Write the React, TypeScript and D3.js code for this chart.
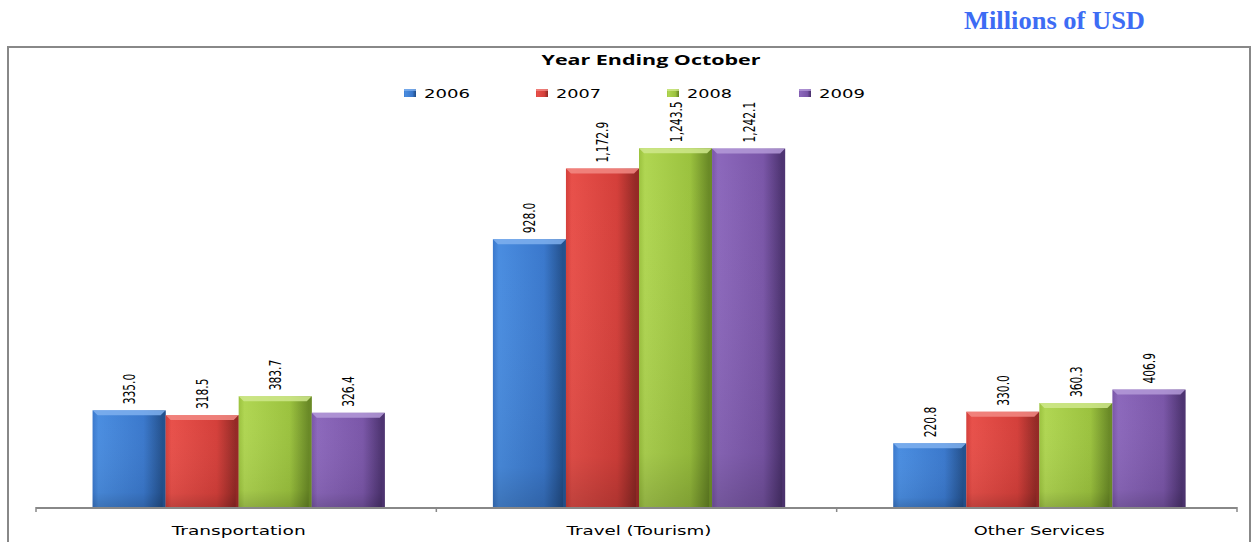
import React from "react";
import * as d3 from "d3";

const categories = ["Transportation", "Travel (Tourism)", "Other Services"];
const years = ["2006", "2007", "2008", "2009"];
const v2006 = [335.0, 928.0, 220.8];
const v2007 = [318.5, 1172.9, 330.0];
const v2008 = [383.7, 1243.5, 360.3];
const v2009 = [326.4, 1242.1, 406.9];
const seriesValues = [v2006, v2007, v2008, v2009];
const yMax = 1400;

const palette = [
  { light: "#4a8de0", mid: "#3a78cc", dark: "#24528f", top: "#7fb0ee" },
  { light: "#e8504a", mid: "#d43f3a", dark: "#952a26", top: "#f28a84" },
  { light: "#b0d652", mid: "#9bc23e", dark: "#6a8a26", top: "#cfe88c" },
  { light: "#8c68bc", mid: "#7a56a8", dark: "#4e3472", top: "#b49ad8" },
];

const W = 1252;
const H = 542;
const baseY = 507;
const topY = 103;
const axisL = 36;
const axisR = 1237;
const barShift = 2.5;

function labelLen(s: string) {
  let n = 0;
  for (const c of s) n += /[0-9]/.test(c) ? 6.8 : 3.4;
  return n;
}

export default function App() {
  const x0 = d3.scaleBand<string>().domain(categories).range([axisL, axisR]).padding(0);
  const x1 = d3
    .scaleBand<string>()
    .domain(years)
    .range([0, x0.bandwidth()])
    .paddingInner(0)
    .paddingOuter(0.74);
  const y = d3.scaleLinear().domain([0, yMax]).range([baseY, topY]);
  const fmt = d3.format(",.1f");
  const legendX = [404, 536, 667, 799];
  const legendTextW = [46, 45, 45, 46];
  const catLabelW = [134, 145, 131];

  return (
    <svg
      width={W}
      height={H}
      style={{ position: "absolute", left: 0, top: 0, background: "#fff" }}
    >
      <defs>
        {palette.map((p, i) => (
          <linearGradient key={i} id={`g${i}`} x1="0" x2="1" y1="0" y2="0">
            <stop offset="0" stopColor={p.mid} />
            <stop offset="0.08" stopColor={p.light} />
            <stop offset="0.7" stopColor={p.mid} />
            <stop offset="0.95" stopColor={p.dark} />
            <stop offset="1" stopColor={p.dark} />
          </linearGradient>
        ))}
        {palette.map((p, i) => (
          <linearGradient key={`v${i}`} id={`s${i}`} x1="0" x2="0" y1="0" y2="1">
            <stop offset="0" stopColor="#fff" stopOpacity="0" />
            <stop offset="0.85" stopColor="#000" stopOpacity="0.06" />
            <stop offset="1" stopColor="#000" stopOpacity="0.18" />
          </linearGradient>
        ))}
      </defs>

      <text
        x={1145}
        y={29}
        textAnchor="end"
        fontFamily="'Liberation Serif', 'Times New Roman', serif"
        fontWeight="bold"
        fontSize={25}
        fill="#3d6cf4"
        textLength={181}
        lengthAdjust="spacingAndGlyphs"
      >
        Millions of USD
      </text>

      <rect x={8} y={47} width={1242} height={520} fill="#fff" stroke="#888" strokeWidth={2} />

      <text
        x={651}
        y={65}
        textAnchor="middle"
        fontFamily="'Open Sans', 'DejaVu Sans', sans-serif"
        fontWeight="bold"
        fontSize={15}
        fill="#000"
        textLength={219}
        lengthAdjust="spacingAndGlyphs"
      >
        Year Ending October
      </text>

      {years.map((yr, i) => (
        <g key={yr}>
          <rect x={legendX[i]} y={89} width={12} height={8} fill={`url(#g${i})`} />
          <rect x={legendX[i]} y={89} width={12} height={2} fill={palette[i].top} opacity={0.8} />
          <text
            x={legendX[i] + 20}
            y={98}
            fontFamily="'DejaVu Sans', Verdana, sans-serif"
            fontSize={13}
            fill="#000"
            textLength={legendTextW[i]}
            lengthAdjust="spacingAndGlyphs"
          >
            {yr}
          </text>
        </g>
      ))}

      {categories.map((cat, ci) => (
        <g key={cat} transform={`translate(${x0(cat)},0)`}>
          {years.map((yr, si) => {
            const v = seriesValues[si][ci];
            const bx = x1(yr)! + barShift;
            const bw = x1.bandwidth();
            const by = y(v);
            const bh = baseY - by;
            const b = 5;
            const lbl = fmt(v);
            return (
              <g key={yr}>
                <rect x={bx} y={by} width={bw} height={bh} fill={`url(#g${si})`} />
                <rect x={bx} y={by} width={bw} height={bh} fill={`url(#s${si})`} />
                <polygon
                  points={`${bx},${by} ${bx + bw},${by} ${bx + bw - b},${by + b} ${bx + b},${by + b}`}
                  fill={palette[si].top}
                  opacity={0.85}
                />
                <polygon
                  points={`${bx + bw},${by} ${bx + bw},${baseY} ${bx + bw - 3},${baseY} ${bx + bw - 3},${by + b}`}
                  fill={palette[si].dark}
                  opacity={0.7}
                />
                <text
                  transform={`translate(${bx + bw / 2 + 6},${by - 6}) rotate(-90)`}
                  fontFamily="'Liberation Sans Narrow', 'DejaVu Sans Condensed', 'Arial Narrow', sans-serif"
                  fontSize={16}
                  fill="#000"
                  textLength={labelLen(lbl)}
                  lengthAdjust="spacingAndGlyphs"
                >
                  {lbl}
                </text>
              </g>
            );
          })}
          <text
            x={x0.bandwidth() / 2 + barShift}
            y={535}
            textAnchor="middle"
            fontFamily="'DejaVu Sans', Verdana, sans-serif"
            fontSize={13}
            fill="#000"
            textLength={catLabelW[ci]}
            lengthAdjust="spacingAndGlyphs"
          >
            {cat}
          </text>
        </g>
      ))}

      <line x1={axisL} x2={axisR} y1={baseY + 1} y2={baseY + 1} stroke="#888" strokeWidth={2} />
      {[...categories.map((c) => x0(c)!), axisR].map((tx, i) => (
        <line key={i} x1={tx} x2={tx} y1={baseY} y2={baseY + 5} stroke="#888" strokeWidth={1.5} />
      ))}
    </svg>
  );
}
